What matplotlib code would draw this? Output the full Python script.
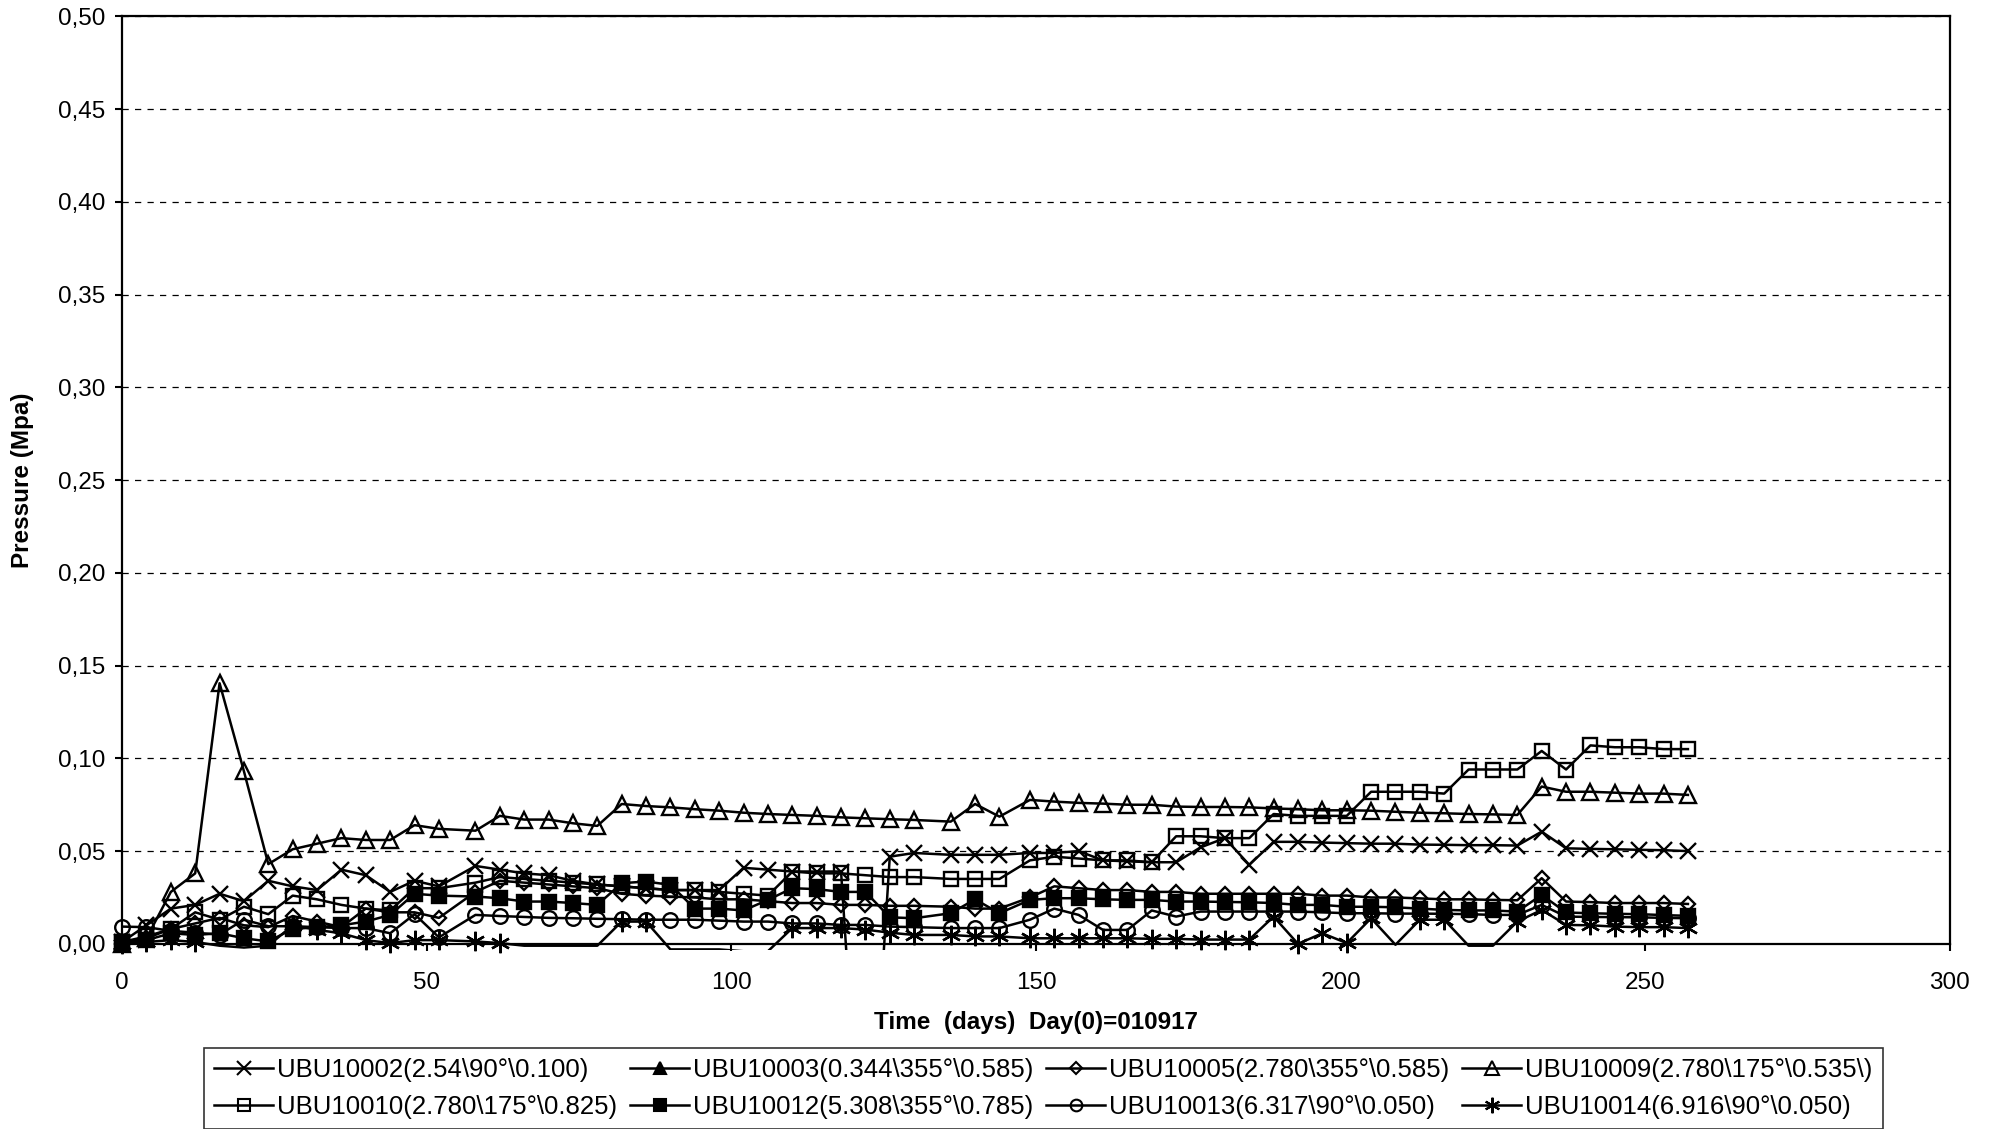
import numpy as np
import matplotlib.pyplot as plt
from matplotlib.lines import Line2D
from matplotlib.ticker import MultipleLocator, FuncFormatter

plt.rcParams['font.family'] = ['Liberation Sans', 'DejaVu Sans']

# Dagar sedan Day(0)=010917
days = [0, 4, 8, 12, 16, 20, 24, 28, 32, 36, 40, 44, 48, 52,
        58, 62, 66, 70, 74, 78, 82, 86, 90, 94, 98, 102, 106, 110, 114, 118, 122, 126, 130,
        136, 140, 144,
        149, 153, 157, 161, 165, 169, 173, 177, 181, 185, 189, 193, 197, 201, 205, 209,
        213, 217, 221, 225, 229, 233, 237, 241, 245, 249, 253, 257]

# Tryck (MPa)
ubu10002 = [0.001, 0.010, 0.019, 0.021, 0.027, 0.023, 0.034, 0.031, 0.029, 0.040, 0.037, 0.028, 0.034, 0.031,
            0.042, 0.040, 0.038, 0.037, 0.034, 0.032, 0.031, 0.030, 0.029, 0.029, 0.029, 0.041, 0.040, 0.039,
            0.039, 0.039, -0.160, 0.047, 0.049,
            0.048, 0.048, 0.048,
            0.049, 0.049, 0.050, 0.045, 0.0445, 0.044, 0.044, 0.052, 0.057, 0.0426, 0.055, 0.055, 0.0546,
            0.0543, 0.054, 0.054, 0.0535, 0.0534, 0.0532, 0.0532, 0.053, 0.0605, 0.0515, 0.0512, 0.051,
            0.0507, 0.0505, 0.050]
ubu10003 = [-0.02, -0.03, -0.04, -0.05, -0.05, -0.06, -0.06, -0.07, -0.07, -0.07, -0.08, -0.08, -0.08, -0.08,
            -0.09, -0.09, -0.09, -0.09, -0.10, -0.10, -0.10, -0.10, -0.10, -0.11, -0.11, -0.11, -0.11, -0.11,
            -0.12, -0.12, -0.12, -0.12, -0.12,
            -0.12, -0.12, -0.12,
            -0.13, -0.13, -0.13, -0.13, -0.13, -0.13, -0.13, -0.13, -0.13, -0.13, -0.14, -0.14, -0.14,
            -0.14, -0.14, -0.14, -0.14, -0.14, -0.14, -0.14, -0.14, -0.14, -0.14, -0.14, -0.14,
            -0.14, -0.14, -0.14]
ubu10005 = [0.000, 0.003, 0.008, 0.011, 0.014, 0.010, 0.009, 0.015, 0.012, 0.009, 0.019, 0.017, 0.017, 0.014,
            0.028, 0.034, 0.033, 0.032, 0.031, 0.030, 0.027, 0.026, 0.0255, 0.025, 0.024, 0.024, 0.023, 0.022,
            0.022, 0.021, 0.021, 0.0205, 0.0205,
            0.020, 0.019, 0.019,
            0.025, 0.031, 0.030, 0.029, 0.029, 0.028, 0.028, 0.027, 0.027, 0.027, 0.027, 0.027, 0.026,
            0.026, 0.025, 0.025, 0.0245, 0.024, 0.024, 0.0237, 0.0235, 0.0354, 0.0228, 0.0225, 0.022,
            0.022, 0.022, 0.0215]
ubu10009 = [0.000, 0.003, 0.028, 0.038, 0.1405, 0.093, 0.043, 0.051, 0.054, 0.057, 0.056, 0.056, 0.064, 0.062,
            0.061, 0.069, 0.067, 0.067, 0.065, 0.0636, 0.0754, 0.0743, 0.0736, 0.0726, 0.0718, 0.0707, 0.070,
            0.0695, 0.069, 0.0682, 0.0677, 0.0672, 0.0668,
            0.0659, 0.0754, 0.0686,
            0.0776, 0.0767, 0.076, 0.0756, 0.075, 0.075, 0.074, 0.0738, 0.0738, 0.0736, 0.073, 0.0726, 0.072,
            0.072, 0.0718, 0.0712, 0.0707, 0.0704, 0.070, 0.0698, 0.0695, 0.0848, 0.082, 0.082, 0.0815,
            0.081, 0.081, 0.0803]
ubu10010 = [0.001, 0.004, 0.008, 0.017, 0.013, 0.020, 0.016, 0.026, 0.024, 0.021, 0.019, 0.018, 0.030, 0.030,
            0.033, 0.036, 0.035, 0.034, 0.033, 0.032, 0.031, 0.030, 0.029, 0.029, 0.028, 0.027, 0.026, 0.039,
            0.038, 0.038, 0.037, 0.036, 0.036,
            0.035, 0.035, 0.035,
            0.045, 0.047, 0.046, 0.045, 0.045, 0.044, 0.058, 0.058, 0.057, 0.057, 0.070, 0.069, 0.069,
            0.069, 0.082, 0.082, 0.082, 0.081, 0.094, 0.094, 0.094, 0.104, 0.094, 0.107, 0.106,
            0.106, 0.105, 0.105]
ubu10012 = [0.000, 0.002, 0.0057, 0.0048, 0.0057, 0.003, 0.0013, 0.008, 0.009, 0.010, 0.012, 0.0156, 0.027, 0.026,
            0.0255, 0.0246, 0.0228, 0.0228, 0.022, 0.021, 0.0327, 0.0336, 0.0318, 0.019, 0.019, 0.018, 0.0237,
            0.030, 0.0295, 0.028, 0.028, 0.0143, 0.0138,
            0.0165, 0.024, 0.0165,
            0.0237, 0.0246, 0.0246, 0.024, 0.0237, 0.0237, 0.0228, 0.0228, 0.0226, 0.0224, 0.022, 0.021,
            0.021, 0.020, 0.020, 0.0197, 0.019, 0.0183, 0.018, 0.018, 0.0174, 0.0264, 0.0169, 0.0165,
            0.0162, 0.016, 0.0155, 0.0151]
ubu10013 = [0.0093, 0.009, 0.007, 0.006, 0.005, 0.013, 0.0095, 0.0095, 0.009, 0.0085, 0.0085, 0.0057, 0.016, 0.0035,
            0.0156, 0.015, 0.0145, 0.014, 0.0138, 0.0135, 0.0133, 0.013, 0.013, 0.013, 0.0125, 0.012, 0.012,
            0.011, 0.011, 0.0102, 0.0102, 0.0093, 0.009,
            0.0085, 0.0085, 0.0085,
            0.013, 0.019, 0.0156, 0.0075, 0.0075, 0.018, 0.0147, 0.0174, 0.0174, 0.0174, 0.0174, 0.0174,
            0.017, 0.0165, 0.0165, 0.0163, 0.0163, 0.0162, 0.016, 0.0156, 0.0156, 0.021, 0.0147, 0.0145,
            0.0144, 0.0143, 0.014, 0.0138]
ubu10014 = [0.000, 0.001, 0.002, 0.001, -0.001, -0.002, -0.001, 0.010, 0.0075, 0.0057, 0.002, 0.0004, 0.002, 0.002,
            0.0013, 0.0004, -0.001, -0.001, -0.001, -0.001, 0.012, 0.012, -0.003, -0.003, -0.003, -0.004,
            -0.004, 0.0085, 0.0085, 0.0085, 0.0077, 0.006, 0.0048,
            0.0048, 0.004, 0.004,
            0.003, 0.003, 0.003, 0.003, 0.003, 0.0027, 0.0027, 0.0023, 0.0023, 0.0023, 0.0147, 0.0,
            0.0057, 0.0004, 0.0138, -0.0005, 0.013, 0.013, -0.001, -0.001, 0.012, 0.0183, 0.0102, 0.010,
            0.0093, 0.009, 0.009, 0.0085]

labels = ['UBU10002(2.54\\90°\\0.100)', 'UBU10003(0.344\\355°\\0.585)',
          'UBU10005(2.780\\355°\\0.585)', 'UBU10009(2.780\\175°\\0.535\\)',
          'UBU10010(2.780\\175°\\0.825)', 'UBU10012(5.308\\355°\\0.785)',
          'UBU10013(6.317\\90°\\0.050)', 'UBU10014(6.916\\90°\\0.050)']
series = [ubu10002, ubu10003, ubu10005, ubu10009, ubu10010, ubu10012, ubu10013, ubu10014]
# (marker, fylld, storlek)
styles = [('x', False, 12), ('^', True, 11), ('D', False, 7.5), ('^', False, 12),
          ('s', False, 10.5), ('s', True, 10.5), ('o', False, 10.5), ((6, 2, 0), False, 14)]

fig = plt.figure(figsize=(19.95, 11.29), dpi=100)
ax = fig.add_axes([0.0612, 0.164, 0.9162, 0.8214])
ax.set_xlim(0, 300)
ax.set_ylim(0, 0.5)
ax.xaxis.set_major_locator(MultipleLocator(50))
ax.yaxis.set_major_locator(MultipleLocator(0.05))
ax.yaxis.set_major_formatter(FuncFormatter(lambda v, p: f'{v:.2f}'.replace('.', ',')))
ax.grid(axis='y', color='black', linestyle=(0, (5, 5)), linewidth=0.9)
ax.set_axisbelow(True)
for s in ax.spines.values():
    s.set_linewidth(1.6)
ax.tick_params(axis='both', direction='out', length=5, width=1.5, labelsize=17.5)
ax.tick_params(axis='y', pad=7)
ax.tick_params(axis='x', pad=15)

# Linjer får gå lite under axeln (som i Excel), markörer bara för värden >= 0
clip = plt.Rectangle((0, -0.007), 1, 1.007, transform=ax.transAxes, visible=False)
handles = []
for vals, (mk, filled, ms), lab in zip(series, styles, labels):
    x = np.array(days)
    y = np.array(vals)
    ln, = ax.plot(x, y, color='black', linewidth=1.8, clip_on=True)
    ln.set_clip_path(clip)
    ok = y >= 0
    fc = 'black' if filled else 'none'
    ax.plot(x[ok], y[ok], linestyle='none', marker=mk, markersize=ms, markeredgewidth=1.7,
            markeredgecolor='black', markerfacecolor=fc, clip_on=False)
    handles.append(Line2D([], [], color='black', linewidth=1.8, marker=mk, markersize=ms * 0.8,
                          markeredgewidth=1.5, markeredgecolor='black', markerfacecolor=fc))

fig.text(0.0115, 0.5748, 'Pressure (Mpa)', rotation=90, ha='center', va='center',
         fontsize=17.5, fontweight='bold')
fig.text(0.5193, 1 - 1023 / 1129, 'Time  (days)  Day(0)=010917', ha='center', va='center',
         fontsize=17.5, fontweight='bold')

order = [0, 4, 1, 5, 2, 6, 3, 7]
leg = fig.legend([handles[i] for i in order], [labels[i] for i in order], ncol=4, loc='center',
                 bbox_to_anchor=(0.523, 0.036), fontsize=18.5, frameon=True, fancybox=False,
                 edgecolor='black', handlelength=2.3, handletextpad=0.15, columnspacing=0.5,
                 labelspacing=0.5, borderpad=0.4, borderaxespad=0)
leg.get_frame().set_linewidth(1.2)

fig.savefig('out.png', dpi=100)
